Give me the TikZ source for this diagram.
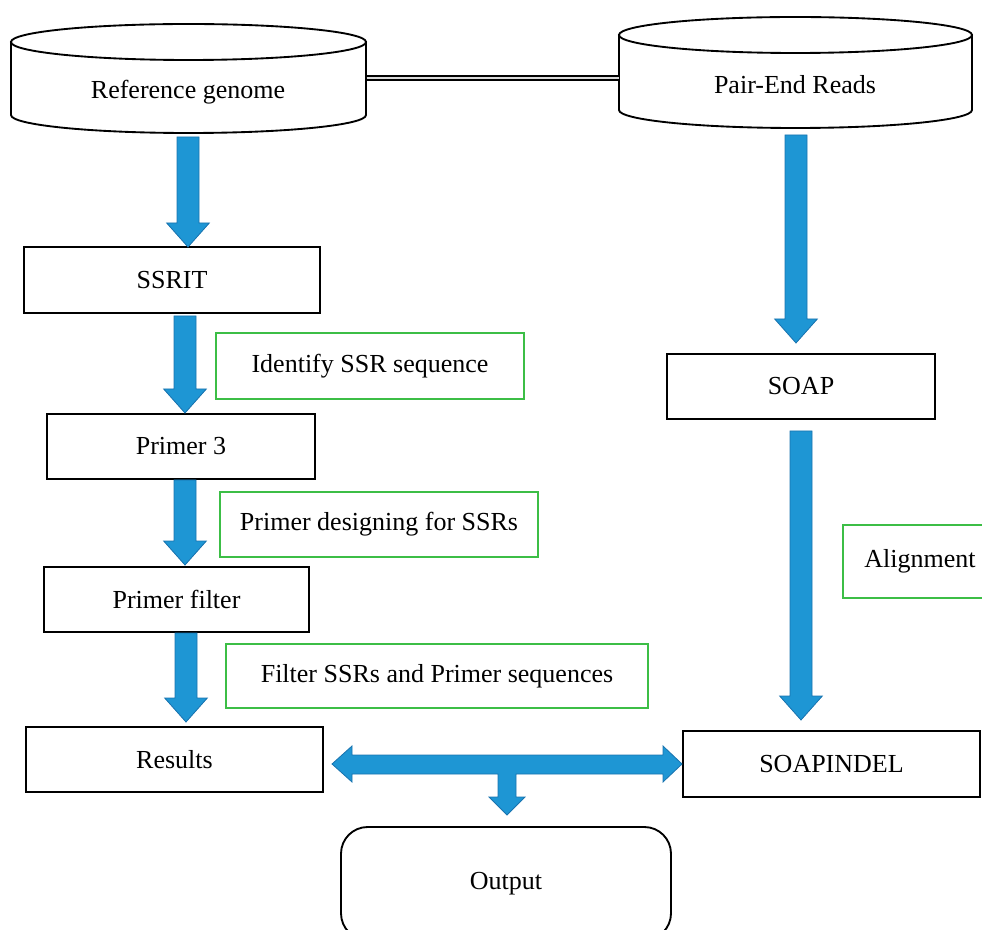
\documentclass[tikz,border=0pt]{standalone}
\usepackage{fontspec}
\setmainfont{Liberation Serif}
\usetikzlibrary{calc}
\definecolor{arrowblue}{RGB}{30,150,212}
\definecolor{arrowedge}{RGB}{25,115,175}
\definecolor{boxgreen}{RGB}{60,190,70}
\newcommand\fatdown[2]{%
  \filldraw[fat] let \p1=#1, \p2=#2 in
    (\x1-8.25pt,\y1) -- (\x1-8.25pt,\y2+18pt) -- (\x1-16pt,\y2+18pt) -- (\x1,\y2)
    -- (\x1+16pt,\y2+18pt) -- (\x1+8.25pt,\y2+18pt) -- (\x1+8.25pt,\y1) -- cycle;}
\tikzset{
  txt/.style={font=\fontsize{19.5}{22}\selectfont},
  fat/.style={fill=arrowblue,draw=arrowedge,line width=0.6pt,line join=miter},
  procbox/.style={txt,draw=black,line width=1.4pt,fill=white,inner sep=0pt},
  notebox/.style={txt,draw=boxgreen,line width=1.5pt,fill=white,inner sep=0pt},
  cyl/.style={draw=black,line width=1.4pt,fill=white}
}
\begin{document}
\begin{tikzpicture}[x=0.75pt,y=0.75pt]
\useasboundingbox (0,0) rectangle (982,-930);
\clip (0,0) rectangle (982,-930);
% cylinders
\filldraw[cyl] (11,-42) -- (11,-115) arc[start angle=180,end angle=360,x radius=177.5,y radius=18] -- (366,-42) -- cycle;
\filldraw[cyl] (188.5,-42) ellipse[x radius=177.5,y radius=18];
\filldraw[cyl] (619,-35) -- (619,-110) arc[start angle=180,end angle=360,x radius=176.5,y radius=18] -- (972,-35) -- cycle;
\filldraw[cyl] (795.5,-35) ellipse[x radius=176.5,y radius=18];
\node[txt] (refg) at (188,-92) {Reference genome};
\node[txt] (pair) at (795,-85) {Pair-End Reads};
\coordinate (c1e) at (366.5,-78);
\coordinate (c2w) at (618.5,-78);
\draw[line width=1pt,double=gray!30,double distance=1.8pt] (c1e) -- (c2w);
% boxes
\node[procbox,minimum width=222pt,minimum height=49.5pt] (ssrit) at (172,-280) {SSRIT};
\node[notebox,minimum width=231pt,minimum height=49.5pt] (ident) at (370,-366) {Identify SSR sequence};
\node[procbox,minimum width=201pt,minimum height=48.75pt] (primer3) at (181,-446.5) {Primer 3};
\node[notebox,minimum width=238.5pt,minimum height=48.75pt] (design) at (379,-524.5) {Primer designing for SSRs};
\node[procbox,minimum width=198.75pt,minimum height=48.75pt] (pfilter) at (176.5,-599.5) {Primer filter};
\node[notebox,minimum width=316.5pt,minimum height=48pt] (filt) at (437,-676) {Filter SSRs and Primer sequences};
\node[procbox,minimum width=222.75pt,minimum height=48.75pt] (results) at (174.5,-759.5) {Results};
\node[procbox,minimum width=201pt,minimum height=48.75pt] (soap) at (801,-386.5) {SOAP};
\node[notebox,minimum width=115.5pt,minimum height=54.75pt] (align) at (920,-561.5) {Alignment};
\node[procbox,minimum width=222.75pt,minimum height=49.5pt] (indel) at (831.5,-764) {SOAPINDEL};
\node[procbox,rounded corners=20pt,minimum width=247.5pt,minimum height=84.75pt] (output) at (506,-883.5) {Output};
% fat arrows
\coordinate (a1s) at (188,-137); \coordinate (a1e) at (188,-247);
\coordinate (a2s) at (185,-316); \coordinate (a2e) at (185,-413);
\coordinate (a3s) at (185,-480); \coordinate (a3e) at (185,-565);
\coordinate (a4s) at (186,-633); \coordinate (a4e) at (186,-722);
\coordinate (a5s) at (796,-135); \coordinate (a5e) at (796,-343);
\coordinate (a6s) at (801,-431); \coordinate (a6e) at (801,-720);
\fatdown{(a1s)}{(a1e)}
\fatdown{(a2s)}{(a2e)}
\fatdown{(a3s)}{(a3e)}
\fatdown{(a4s)}{(a4e)}
\fatdown{(a5s)}{(a5e)}
\fatdown{(a6s)}{(a6e)}
% T-shaped double arrow between Results, SOAPINDEL and Output
\coordinate (tl) at (332,-764);
\coordinate (tr) at (682,-764);
\coordinate (tb) at (507,-815);
\filldraw[fat] (tl) -- (352,-746) -- (352,-755) -- (663,-755) -- (663,-746) -- (tr)
  -- (663,-782) -- (663,-774) -- (516,-774) -- (516,-797) -- (525,-797) -- (tb)
  -- (489,-797) -- (498,-797) -- (498,-774) -- (352,-774) -- (352,-782) -- cycle;
\end{tikzpicture}
\end{document}
